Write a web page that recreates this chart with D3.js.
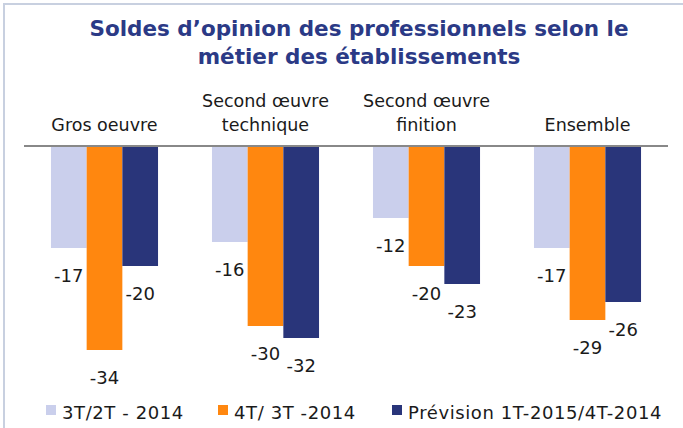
<!DOCTYPE html>
<html><head><meta charset="utf-8">
<script src="https://cdn.jsdelivr.net/npm/d3@7"></script>
<style>body{margin:0;background:#fff}svg{display:block}</style>
</head><body>
<script>
const categories = [["Gros oeuvre"], ["Second œuvre", "technique"], ["Second œuvre", "finition"], ["Ensemble"]];
const seriesNames = ["3T/2T - 2014", "4T/ 3T -2014", "Prévision 1T-2015/4T-2014"];
const s1 = [-17, -16, -12, -17];
const s2 = [-34, -30, -20, -29];
const s3 = [-20, -32, -23, -26];
const colors = ["#CACFEC", "#FF870F", "#29357A"];
const titleLines = ["Soldes d’opinion des professionnels selon le", "métier des établissements"];

const W = 683, H = 428;
const svg = d3.select("body").append("svg").attr("width", W).attr("height", H);
const font = "'DejaVu Sans', sans-serif";

svg.append("rect").attr("x", 4).attr("y", 4).attr("width", 700).attr("height", 500)
  .attr("fill", "none").attr("stroke", "#C8D0E0").attr("stroke-width", 2);

svg.append("g").selectAll("text").data(titleLines).join("text")
  .attr("x", 359).attr("y", (d, i) => 36 + i * 28)
  .attr("text-anchor", "middle").attr("font-family", font).attr("font-weight", "bold")
  .attr("font-size", 21.5).attr("fill", "#2B3A86").text(d => d);

const series = [s1, s2, s3];
const idx = d3.range(categories.length);
const x0 = d3.scaleBand().domain(idx).range([24, 668]).paddingInner(0.335).paddingOuter(0.1675);
const x1 = d3.scaleBand().domain(d3.range(series.length)).range([0, x0.bandwidth()]);
const y = d3.scaleLinear().domain([0, -35]).range([146, 356]);

// category labels
const cl = svg.append("g");
idx.forEach(i => {
  const lines = categories[i];
  lines.forEach((t, j) => {
    cl.append("text").attr("x", x0(i) + x0.bandwidth() / 2)
      .attr("y", 131 - (lines.length - 1 - j) * 24)
      .attr("text-anchor", "middle").attr("font-family", font).attr("font-size", 17.5)
      .attr("fill", "#1a1a1a").text(t);
  });
});

const g = svg.append("g");
series.forEach((vals, s) => {
  g.append("g").selectAll("rect").data(vals).join("rect")
    .attr("x", (d, i) => x0(i) + x1(s)).attr("width", x1.bandwidth())
    .attr("y", y(0)).attr("height", d => y(d) - y(0)).attr("fill", colors[s]);
  g.append("g").selectAll("text").data(vals).join("text")
    .attr("x", (d, i) => x0(i) + x1(s) + x1.bandwidth() / 2)
    .attr("y", d => y(d) + 34)
    .attr("text-anchor", "middle").attr("font-family", font).attr("font-size", 18)
    .attr("fill", "#1a1a1a").text(d => d);
});

svg.append("line").attr("x1", 24).attr("x2", 668).attr("y1", y(0)).attr("y2", y(0))
  .attr("stroke", "#888").attr("stroke-width", 2);

// legend
const legX = [46, 218, 392];
const lg = svg.append("g");
seriesNames.forEach((n, s) => {
  lg.append("rect").attr("x", legX[s]).attr("y", 405).attr("width", 10).attr("height", 10).attr("fill", colors[s]);
  lg.append("text").attr("x", legX[s] + 16).attr("y", 418.5).attr("font-family", font)
    .attr("font-size", 18).attr("letter-spacing", 0.6).attr("fill", "#1a1a1a").text(n);
});
</script>
</body></html>
